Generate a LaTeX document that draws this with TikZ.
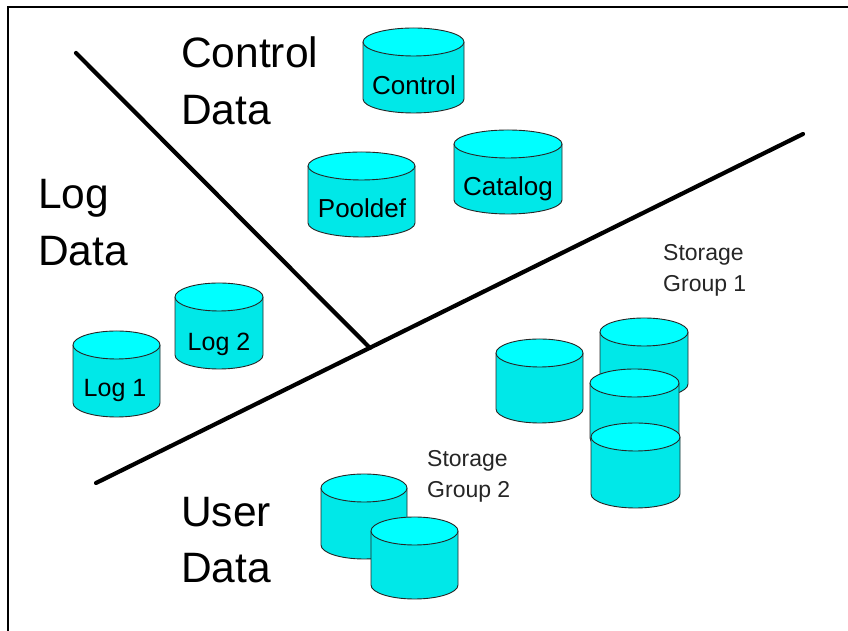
\documentclass[tikz,border=0pt]{standalone}
\usepackage{fontspec}
\setmainfont{Liberation Sans}
\begin{document}
\begin{tikzpicture}[x=1pt,y=1pt,
  cyltop/.style={fill=cyanTop,draw=black!85,line width=0.9pt},
  cylside/.style={fill=cyanSide},
  cyledge/.style={draw=black!85,line width=0.9pt},
  divider/.style={line width=4.2pt,line cap=round},
  biglabel/.style={anchor=base west,inner sep=0pt,font=\fontsize{42.5}{50}\selectfont},
  cyllabel/.style={anchor=base,inner sep=0pt,font=\fontsize{26}{30}\selectfont},
  loglabel/.style={anchor=base,inner sep=0pt,font=\fontsize{25}{30}\selectfont},
  sglabel/.style={anchor=base west,inner sep=0pt,text=black!85,font=\fontsize{23}{28}\selectfont}]
\definecolor{cyanTop}{RGB}{0,255,255}
\definecolor{cyanSide}{RGB}{0,232,232}
\useasboundingbox (0,0) rectangle (848,631);
\fill[white] (0,0) rectangle (848,631);
% frame (only top and left edges visible)
\draw[line width=1.4pt] (8,-20) -- (8,624) -- (870,624);
% cylinder macro: left, right, top, bottom (pixel coordinates, y downward)
\newcommand{\mycyl}[4]{%
  \pgfmathsetmacro{\cl}{#1}\pgfmathsetmacro{\cr}{#2}%
  \pgfmathsetmacro{\ct}{631-#3}\pgfmathsetmacro{\cb}{631-#4}%
  \pgfmathsetmacro{\crx}{(#2-#1)/2}\pgfmathsetmacro{\ccx}{(#1+#2)/2}%
  \pgfmathsetmacro{\cty}{\ct-14}\pgfmathsetmacro{\cby}{\cb+14}%
  \fill[cylside] (\cl,\cty) -- (\cl,\cby) arc[start angle=180,end angle=360,x radius=\crx,y radius=14] -- (\cr,\cty) -- cycle;
  \draw[cyledge] (\cl,\cty) -- (\cl,\cby) arc[start angle=180,end angle=360,x radius=\crx,y radius=14] -- (\cr,\cty);
  \path[cyltop] (\ccx,\cty) ellipse[x radius=\crx,y radius=14];
}
% dividers
\coordinate (d1a) at (76,578);
\coordinate (d1b) at (370,283);
\coordinate (d2a) at (96,148);
\coordinate (d2b) at (803,497);
\draw[divider] (d1a) -- (d1b);
\draw[divider] (d2a) -- (d2b);
% control data cylinders
\mycyl{363}{464}{28}{113}
\mycyl{308}{415}{152}{237}
\mycyl{454}{562}{130}{214}
% log cylinders
\mycyl{175}{263}{283}{369}
\mycyl{73}{160}{331}{417}
% storage group 1
\mycyl{496}{583}{339}{423}
\mycyl{600}{688}{318}{398}
\mycyl{590}{679}{369}{452}
\mycyl{591}{680}{423}{508}
% storage group 2
\mycyl{321}{407}{474}{559}
\mycyl{371}{458}{517}{599}
% cylinder labels
\node[cyllabel] (cControl) at (414,536) {Control};
\node[cyllabel] (cPooldef) at (362,413) {Pooldef};
\node[cyllabel] (cCatalog) at (508,435) {Catalog};
\node[loglabel] (cLog2) at (219,280) {Log 2};
\node[loglabel] (cLog1) at (115,234) {Log 1};
% big labels
\node[biglabel] (ctrlA) at (181,563) {Control};
\node[biglabel] (ctrlB) at (181,506) {Data};
\node[biglabel] (logA) at (38,422) {Log};
\node[biglabel] (logB) at (38,365) {Data};
\node[biglabel] (userA) at (181,104) {User};
\node[biglabel] (userB) at (181,48) {Data};
% storage group labels
\node[sglabel] (sg1a) at (663,370) {Storage};
\node[sglabel] (sg1b) at (663,339) {Group 1};
\node[sglabel] (sg2a) at (427,164) {Storage};
\node[sglabel] (sg2b) at (427,133) {Group 2};
\end{tikzpicture}
\end{document}
